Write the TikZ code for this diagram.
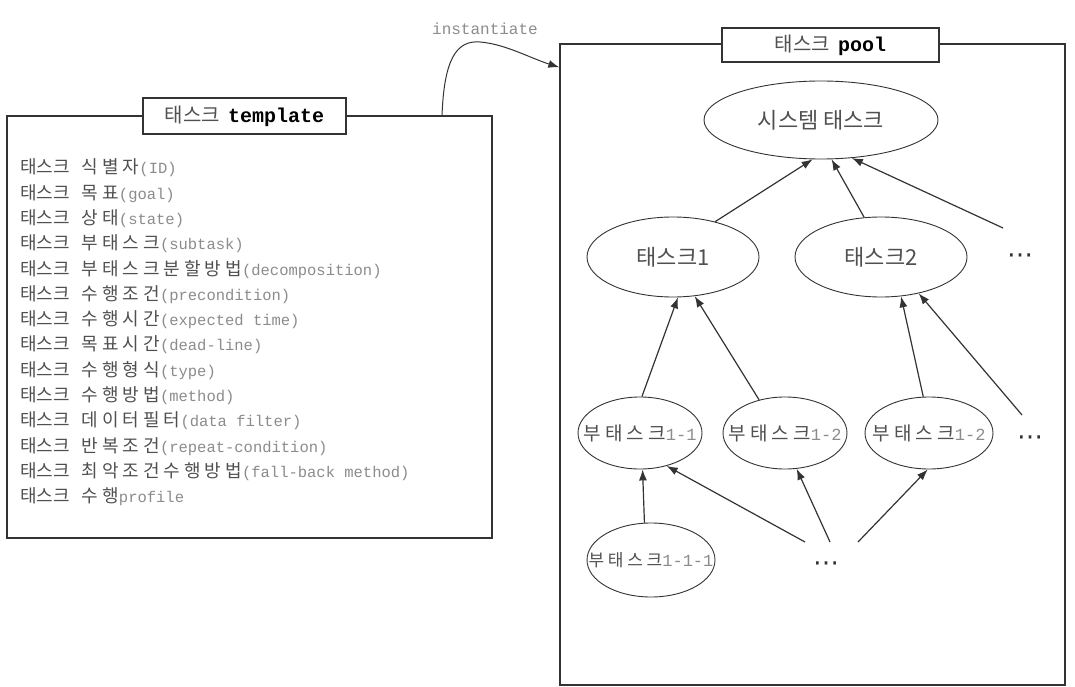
\documentclass[tikz,border=0pt]{standalone}
\usepackage{fontspec}
\usetikzlibrary{shapes.geometric,arrows.meta}
\newfontfamily\kr{Noto Sans CJK KR}
\newfontfamily\krw{Noto Sans CJK KR}[LetterSpace=22]
\newfontfamily\mono{Liberation Mono}
\newfontfamily\dejavu{DejaVu Sans}
\definecolor{ink}{HTML}{333333}
\definecolor{kgray}{HTML}{505050}
\definecolor{egray}{HTML}{8C8C8C}
\newcommand\trow[2]{{\kr 태스크}\hspace{12pt}{\krw #1}{\color{egray}\mono\fontsize{15.5}{18}\selectfont #2}}
\newcommand\subtxt[2]{\makebox[0pt][c]{{\krw #1}{\color{egray}\mono\fontsize{17}{20}\selectfont #2}}}
\begin{document}
\begin{tikzpicture}[x=1pt,y=-1pt,
  box/.style={draw=ink, line width=1.3pt, inner sep=0pt, fill=white},
  titlebox/.style={draw=ink, line width=1.3pt, fill=white, inner sep=0pt, text=kgray},
  ell/.style={ellipse, draw=ink, line width=0.9pt, inner sep=0pt, text=kgray},
  arr/.style={-{Latex[length=11pt,width=8pt]}, line width=1.2pt, draw=ink},
  rowtxt/.style={anchor=west, inner sep=0pt, text=kgray, font=\kr\fontsize{18}{20}\selectfont},
  dotstxt/.style={inner sep=0pt, text=ink, font=\dejavu\fontsize{26}{28}\selectfont}]
\useasboundingbox (0,0) rectangle (1075,687);
\fill[white] (0,0) rectangle (1075,687);

% template box
\node[box, minimum width=485pt, minimum height=422pt] (tmpl) at (249.5,327) {};
\node[titlebox, minimum width=203pt, minimum height=36pt] (tmpltitle) at (244.5,116)
  {\kr\fontsize{20}{22}\selectfont 태스크\hspace{8pt}{\color{black}\mono\bfseries template}};

\node[rowtxt] (r1)  at (20,168.0) {\trow{식별자}{(ID)}};
\node[rowtxt] (r2)  at (20,193.3) {\trow{목표}{(goal)}};
\node[rowtxt] (r3)  at (20,218.6) {\trow{상태}{(state)}};
\node[rowtxt] (r4)  at (20,243.9) {\trow{부태스크}{(subtask)}};
\node[rowtxt] (r5)  at (20,269.2) {\trow{부태스크분할방법}{(decomposition)}};
\node[rowtxt] (r6)  at (20,294.5) {\trow{수행조건}{(precondition)}};
\node[rowtxt] (r7)  at (20,319.8) {\trow{수행시간}{(expected time)}};
\node[rowtxt] (r8)  at (20,345.1) {\trow{목표시간}{(dead-line)}};
\node[rowtxt] (r9)  at (20,370.4) {\trow{수행형식}{(type)}};
\node[rowtxt] (r10) at (20,395.7) {\trow{수행방법}{(method)}};
\node[rowtxt] (r11) at (20,421.0) {\trow{데이터필터}{(data filter)}};
\node[rowtxt] (r12) at (20,446.3) {\trow{반복조건}{(repeat-condition)}};
\node[rowtxt] (r13) at (20,471.6) {\trow{최악조건수행방법}{(fall-back method)}};
\node[rowtxt] (r14) at (20,496.9) {\trow{수행}{profile}};

% pool box
\node[box, minimum width=505pt, minimum height=641pt] (pool) at (812.5,364.5) {};
\node[titlebox, minimum width=217pt, minimum height=34pt] (pooltitle) at (830.5,45)
  {\kr\fontsize{20}{22}\selectfont 태스크\hspace{8pt}{\color{black}\mono\bfseries pool}};

% instantiate
\coordinate (src) at (442,116);
\coordinate (dst) at ([yshift=-24pt]pool.north west);
\draw[arr, line width=1pt] (src) .. controls (444,60) and (456,40) .. (480,42)
   .. controls (505,44) and (530,58) .. (dst);
\node[inner sep=0pt, text=egray, font=\mono\fontsize{16}{18}\selectfont] (inst) at (485,29) {instantiate};

% ellipses
\node[ell, minimum width=234pt, minimum height=78pt, font=\kr\fontsize{22}{24}\selectfont] (sys) at (821,120) {시스템 태스크};
\node[ell, minimum width=172pt, minimum height=80pt, font=\kr\fontsize{22}{24}\selectfont] (t1) at (673,257) {태스크1};
\node[ell, minimum width=172pt, minimum height=80pt, font=\kr\fontsize{22}{24}\selectfont] (t2) at (881,257) {태스크2};
\node[dotstxt] (d1) at (1020,259) {⋯};

\node[ell, minimum width=124pt, minimum height=72pt, font=\fontsize{19}{22}\selectfont] (s11) at (640,433) {\subtxt{부태스크}{1-1}};
\node[ell, minimum width=124pt, minimum height=72pt, font=\fontsize{19}{22}\selectfont] (s12) at (785,433) {\subtxt{부태스크}{1-2}};
\node[ell, minimum width=128pt, minimum height=72pt, font=\fontsize{19}{22}\selectfont] (s13) at (929,433) {\subtxt{부태스크}{1-2}};
\node[dotstxt] (d2) at (1030,441) {⋯};

\node[ell, minimum width=128pt, minimum height=74pt, font=\fontsize{17}{20}\selectfont] (s111) at (651,560) {\subtxt{부태스크}{1-1-1}};
\node[dotstxt] (d3) at (826,567) {⋯};

\coordinate (c1) at (1003,228);
\coordinate (c2) at (1022,415);
\coordinate (c3) at (805,542);
\coordinate (c4) at (830,542);
\coordinate (c5) at (858,542);

% arrows
\draw[arr] (t1.40) -- (sys.258);
\draw[arr] (t2.113) -- (sys.285);
\draw[arr] (c1) -- (sys.309);
\draw[arr] (s11.87) -- (t1.277);
\draw[arr] (s12.128) -- (t1.299);
\draw[arr] (s13.99) -- (t2.297);
\draw[arr] (c2) -- (t2.316);
\draw[arr] (s111.100) -- (s11.274);
\draw[arr] (c3) -- (s11.309);
\draw[arr] (c4) -- (s12.288);
\draw[arr] (c5) -- (s13.268);
\end{tikzpicture}
\end{document}
